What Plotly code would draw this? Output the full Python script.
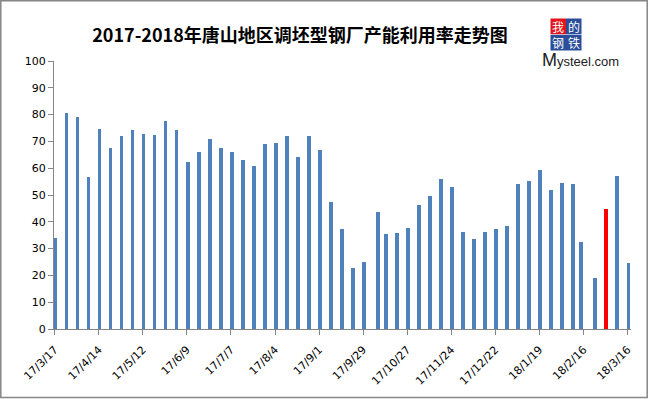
import pandas as pd
import plotly.graph_objects as go

# ---- data ----
dates = [
    "2017-03-17", "2017-03-24", "2017-03-31", "2017-04-07", "2017-04-14", "2017-04-21",
    "2017-04-28", "2017-05-05", "2017-05-12", "2017-05-19", "2017-05-26", "2017-06-02",
    "2017-06-09", "2017-06-16", "2017-06-23", "2017-06-30", "2017-07-07", "2017-07-14",
    "2017-07-21", "2017-07-28", "2017-08-04", "2017-08-11", "2017-08-18", "2017-08-25",
    "2017-09-01", "2017-09-08", "2017-09-15", "2017-09-22", "2017-09-29", "2017-10-08",
    "2017-10-13", "2017-10-20", "2017-10-27", "2017-11-03", "2017-11-10", "2017-11-17",
    "2017-11-24", "2017-12-01", "2017-12-08", "2017-12-15", "2017-12-22", "2017-12-29",
    "2018-01-05", "2018-01-12", "2018-01-19", "2018-01-26", "2018-02-02", "2018-02-09",
    "2018-02-14", "2018-02-23", "2018-03-02", "2018-03-09", "2018-03-16",
]
utilization = [
    34.1, 80.6, 79.0, 56.9, 74.6, 67.5,
    72.0, 74.2, 72.7, 72.3, 77.5, 74.1,
    62.5, 66.0, 70.8, 67.7, 66.0, 63.0,
    60.8, 69.2, 69.4, 72.0, 64.0, 72.2,
    66.7, 47.3, 37.2, 22.7, 24.9, 43.7,
    35.4, 35.9, 37.7, 46.2, 49.8, 55.9,
    53.0, 36.2, 33.6, 36.2, 37.2, 38.4,
    54.1, 55.3, 59.3, 52.0, 54.3, 54.0,
    32.5, 19.0, 44.7, 57.2, 24.8,
]
highlight_date = "2018-03-02"
y_ticks = [0, 10, 20, 30, 40, 50, 60, 70, 80, 90, 100]
title_text = "2017-2018年唐山地区调坯型钢厂产能利用率走势图"
logo_chars = ["我", "的", "钢", "铁"]

# ---- styling ----
BLUE = "#4F81BD"
RED = "#FF0000"
GRAY = "#868686"
W, H = 649, 399
ML, MR, MT, MB = 54, 18, 61, 70
PW, PH = W - ML - MR, H - MT - MB

def px(x):
    return (x - ML) / PW

def py(y):
    return (H - MB - y) / PH

x_centers = pd.to_datetime(dates) + pd.Timedelta(hours=12)
colors = [RED if d == highlight_date else BLUE for d in dates]

fig = go.Figure()
fig.add_trace(go.Bar(
    x=x_centers, y=utilization,
    width=2.3 * 86400000,
    marker=dict(color=colors, line=dict(width=0)),
    hoverinfo="x+y",
))

shapes = [
    dict(type="rect", xref="paper", yref="paper",
         x0=px(0.8), x1=px(647.2), y0=py(0.8), y1=py(397.4),
         line=dict(color=GRAY, width=1.5), fillcolor="rgba(0,0,0,0)", layer="below"),
]
annotations = []
# logo boxes
box_cols = ["#E3141B", "#2B4E9B", "#2B4E9B", "#2B4E9B"]
bx = [(550.5, 566), (566, 581.5), (550.5, 566), (566, 581.5)]
by = [(18.5, 34.2), (18.5, 34.2), (34.8, 50.5), (34.8, 50.5)]
for ch, c, (x0, x1), (y0, y1) in zip(logo_chars, box_cols, bx, by):
    shapes.append(dict(type="rect", xref="paper", yref="paper",
                       x0=px(x0), x1=px(x1), y0=py(y1), y1=py(y0),
                       line=dict(width=0), fillcolor=c))
    annotations.append(dict(xref="paper", yref="paper", x=px((x0 + x1) / 2), y=py((y0 + y1) / 2),
                            text=ch, showarrow=False, xanchor="center", yanchor="middle",
                            borderpad=0,
                            font=dict(family="Noto Sans CJK SC", size=12, color="white")))
annotations.append(dict(xref="paper", yref="paper", x=px(541), y=py(71),
                        text="<span style='font-size:18px'>M</span>ysteel.com",
                        showarrow=False, xanchor="left", yanchor="bottom", borderpad=0,
                        font=dict(family="Liberation Sans", size=13, color="#222222")))

fig.update_layout(
    width=W, height=H,
    margin=dict(l=ML, r=MR, t=MT, b=MB, pad=0, autoexpand=False),
    paper_bgcolor="white", plot_bgcolor="white",
    showlegend=False,
    title=dict(text="<b>" + title_text + "</b>", x=300 / W, xref="container", xanchor="center",
               y=1 - 36 / H, yref="container", yanchor="middle",
               font=dict(family="Noto Sans CJK SC", size=18, color="black")),
    font=dict(family="DejaVu Sans", size=11, color="black"),
    shapes=shapes,
    annotations=annotations,
    bargap=0,
)
fig.update_xaxes(
    type="date", automargin=False,
    range=["2017-03-16 13:00", "2018-03-18 05:00"],
    tick0="2017-03-17", dtick=28 * 86400000,
    tickformat="%y/%-m/%-d", tickangle=-45,
    showline=True, linecolor=GRAY, linewidth=1,
    ticks="outside", ticklen=5, tickcolor=GRAY, tickwidth=1,
    ticklabelstandoff=4,
    showgrid=False, zeroline=False,
    tickfont=dict(family="DejaVu Sans", size=11, color="black"),
)
fig.update_yaxes(
    range=[0, 100], tickvals=y_ticks, automargin=False,
    showline=True, linecolor=GRAY, linewidth=1,
    ticks="outside", ticklen=5, tickcolor=GRAY, tickwidth=1,
    showgrid=False, zeroline=False,
    tickfont=dict(family="DejaVu Sans", size=11, color="black"),
)

fig.write_html("out.html", config={"displayModeBar": False},
               post_script="document.body.style.margin='0';document.body.style.overflow='hidden';")
